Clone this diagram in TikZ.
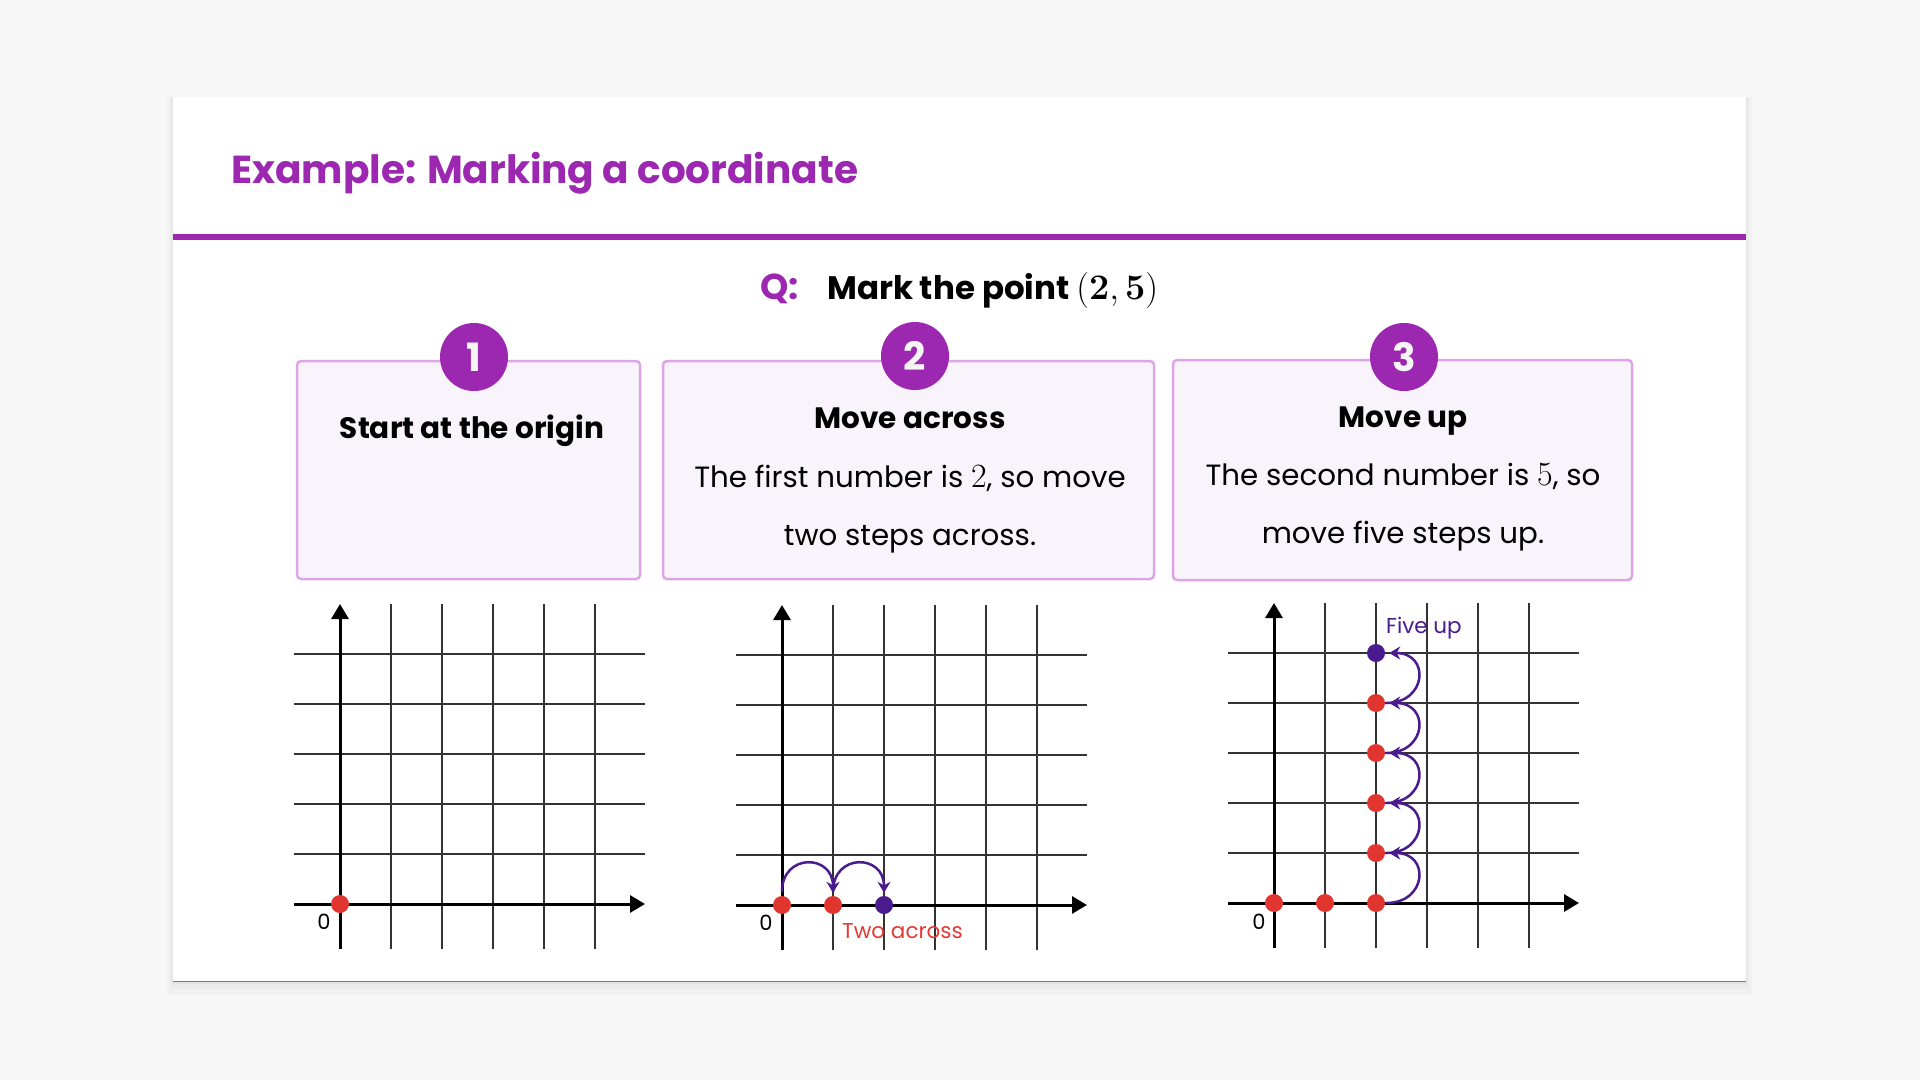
\RequirePackage{fix-cm}
\documentclass[tikz,border=0pt]{standalone}
\usepackage[no-math]{fontspec}
\setmainfont{Poppins}
\usetikzlibrary{arrows.meta}
\definecolor{ttl}{HTML}{9C27B0}
\definecolor{pagebg}{HTML}{F7F7F7}
\definecolor{boxedge}{HTML}{DCA6E4}
\definecolor{boxfill}{HTML}{F9F4FB}
\definecolor{numc}{HTML}{F5F5F5}
\definecolor{gridc}{HTML}{333333}
\definecolor{dotred}{HTML}{E0362F}
\definecolor{txtred}{HTML}{E53935}
\definecolor{dotpur}{HTML}{4A1A8F}
\definecolor{cardline}{HTML}{D9534F}
\newcommand\bignum[1]{{\fontsize{34}{40}\selectfont$#1$}}
\tikzset{
  gridline/.style={draw=gridc, line width=2pt},
  axisline/.style={draw=black, line width=3pt, -{Triangle[width=17pt,length=15pt]}},
  reddot/.style={circle, fill=dotred, inner sep=0pt, minimum size=18pt},
  purdot/.style={circle, fill=dotpur, inner sep=0pt, minimum size=18pt},
  jump/.style={draw=dotpur, line width=2.5pt, -{Stealth[width=13pt,length=11pt]}},
  stepbox/.style={draw=boxedge, line width=2.5pt, fill=boxfill, rounded corners=4pt, inner sep=0pt},
  numcirc/.style={circle, fill=ttl, inner sep=0pt, minimum size=68pt, text=numc, font=\fontsize{39}{44}\selectfont\bfseries},
  head/.style={anchor=base, inner sep=0pt, font=\fontsize{29.5}{34}\selectfont\bfseries},
  body/.style={anchor=base, inner sep=0pt, font=\fontsize{29.3}{34}\selectfont},
  zlab/.style={inner sep=0pt, font=\fontsize{21}{25}\selectfont},
  small/.style={anchor=base west, inner sep=0pt, font=\fontsize{21.5}{25}\selectfont},
}
\newcommand\cgrid[2]{%
  \foreach \k in {1,...,5}{
    \draw[gridline] (#1-46,#2-\k*50) -- (#1+305,#2-\k*50);
    \draw[gridline] (#1+\k*51,#2+45) -- (#1+\k*51,#2-300);
  }
  \draw[axisline] (#1-46,#2) -- (#1+305,#2);
  \draw[axisline] (#1,#2+45) -- (#1,#2-300);
}
\begin{document}
\begin{tikzpicture}[x=1pt,y=-1pt]
\useasboundingbox (0,0) rectangle (1920,1080);
\fill[pagebg] (0,0) rectangle (1920,1080);
% card shadow
\fill[black,opacity=0.025] (167,97) rectangle (1752,995);
\fill[black,opacity=0.025] (170,97) rectangle (1749,989);
\fill[black,opacity=0.03] (172,97) rectangle (1747,984);
% card
\fill[white] (173,97) rectangle (1746,981);
\draw[cardline, line width=1pt] (173,981) -- (1746,981);
\fill[ttl] (173,234) rectangle (1746,240);
% title
\node[anchor=base west, inner sep=0pt, text=ttl, font=\fontsize{39}{44}\selectfont\bfseries] (title) at (231,183) {Example: Marking a coordinate};
% question
\node[anchor=base west, inner sep=0pt, text=ttl, font=\fontsize{36}{40}\selectfont\bfseries] (q) at (760,299) {Q:};
\node[anchor=base west, inner sep=0pt, font=\fontsize{32.5}{38}\selectfont\bfseries] (qtext) at (827,299) {Mark the point {\fontsize{36}{40}\selectfont$(\mathbf{2},\mathbf{5})$}};
% step boxes
\node[stepbox, minimum width=343pt, minimum height=218pt] (box1) at (468.5,470) {};
\node[stepbox, minimum width=491pt, minimum height=218pt] (box2) at (908.5,470) {};
\node[stepbox, minimum width=459pt, minimum height=220pt] (box3) at (1402.5,470) {};
\node[numcirc] (c1) at (474,357) {1};
\node[numcirc] (c2) at (915,356) {2};
\node[numcirc] (c3) at (1404,357) {3};
\node[head] (h1) at (472,438) {Start at the origin};
\node[head] (h2) at (910,428) {Move across};
\node[body] (t2a) at (910,487) {The first number is \bignum{2}, so move};
\node[body] (t2b) at (910,545) {two steps across.};
\node[head] (h3) at (1403,427) {Move up};
\node[body] (t3a) at (1403,485) {The second number is \bignum{5}, so};
\node[body] (t3b) at (1403,543) {move five steps up.};
% graph 1
\cgrid{340}{904}
\node[zlab] (z1) at (324,922) {0};
\node[reddot] (g1o) at (340,904) {};
% graph 2
\cgrid{782}{905}
\node[zlab] (z2) at (766,923) {0};
\node[reddot] (g2a) at (782,905) {};
\node[reddot] (g2b) at (833,905) {};
\node[purdot] (g2c) at (884,905) {};
\draw[jump] ([yshift=4pt]g2a.north) .. controls +(0,-39) and +(0,-39) .. ([yshift=3pt]g2b.north);
\draw[jump] ([yshift=4pt]g2b.north) .. controls +(0,-39) and +(0,-39) .. ([yshift=3pt]g2c.north);
\node[small, text=txtred] (two) at (842,938) {Two across};
% graph 3
\cgrid{1274}{903}
\node[zlab] (z3) at (1259,922) {0};
\node[reddot] (g3a) at (1274,903) {};
\node[reddot] (g3b) at (1325,903) {};
\node[reddot] (g3c) at (1376,903) {};
\node[reddot] (g3d) at (1376,853) {};
\node[reddot] (g3e) at (1376,803) {};
\node[reddot] (g3f) at (1376,753) {};
\node[reddot] (g3g) at (1376,703) {};
\node[purdot] (g3h) at (1376,653) {};
\draw[jump] ([xshift=1pt]g3c.east) .. controls +(41,0) and +(41,0) .. ([xshift=4pt]g3d.east);
\draw[jump] ([xshift=1pt]g3d.east) .. controls +(41,0) and +(41,0) .. ([xshift=4pt]g3e.east);
\draw[jump] ([xshift=1pt]g3e.east) .. controls +(41,0) and +(41,0) .. ([xshift=4pt]g3f.east);
\draw[jump] ([xshift=1pt]g3f.east) .. controls +(41,0) and +(41,0) .. ([xshift=4pt]g3g.east);
\draw[jump] ([xshift=1pt]g3g.east) .. controls +(41,0) and +(41,0) .. ([xshift=4pt]g3h.east);
\node[small, text=dotpur] (five) at (1386,633) {Five up};
\end{tikzpicture}
\end{document}
